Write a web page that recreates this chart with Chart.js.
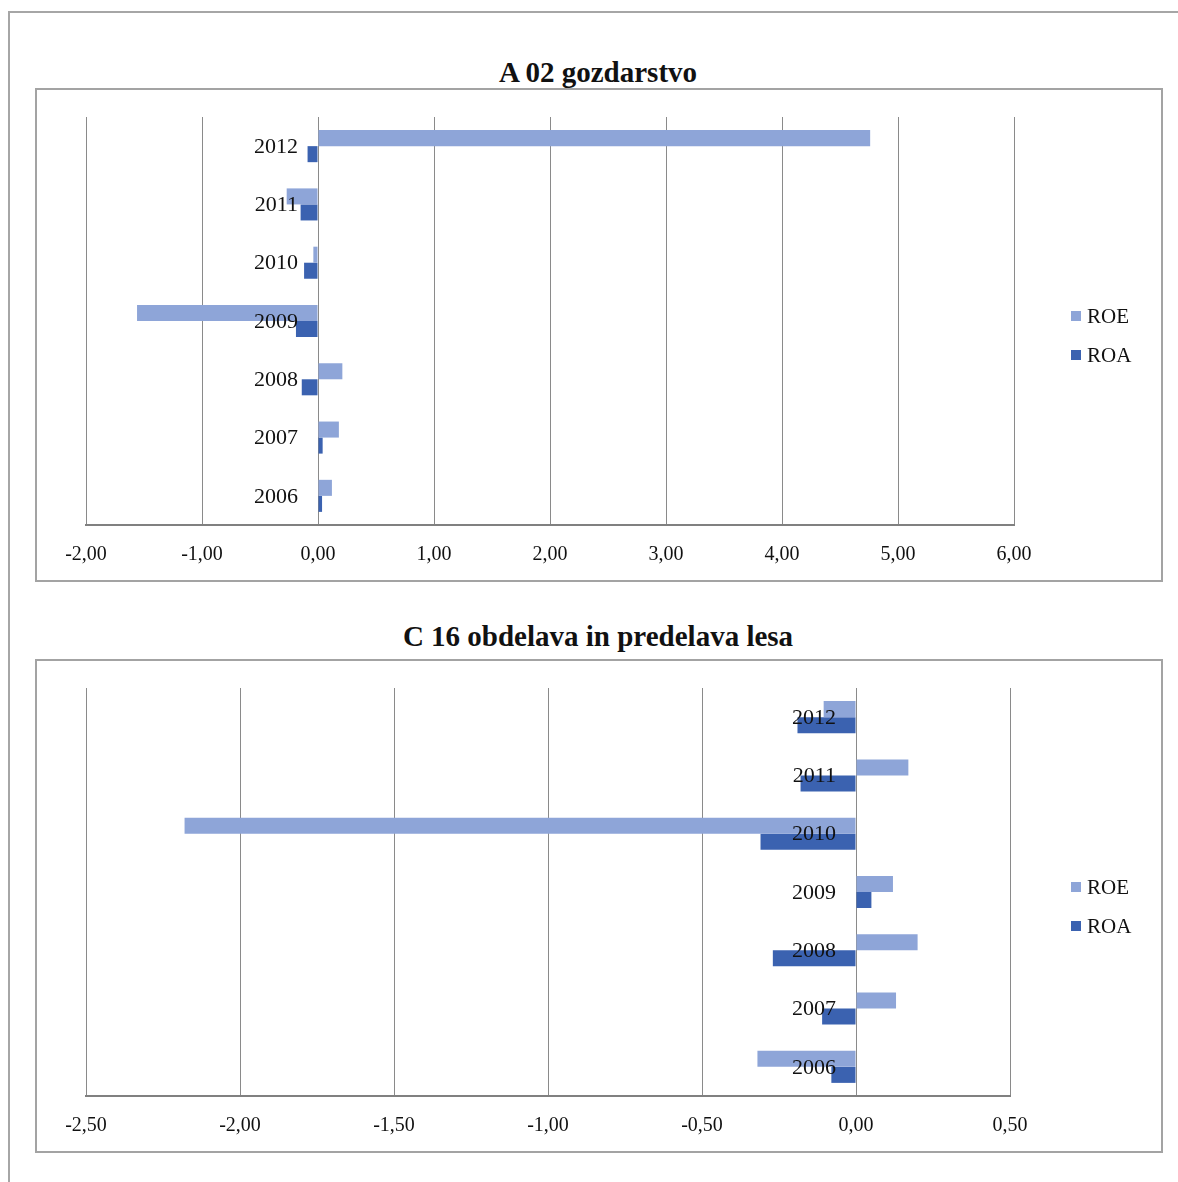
<!DOCTYPE html>
<html lang="sl">
<head>
    <meta charset="UTF-8">
    <title>ROE in ROA</title>
    <script src="https://cdn.jsdelivr.net/npm/chart.js"></script>
    <style>
        body { margin: 0; background: #fff; overflow: hidden; font-family: "Liberation Serif", "Times New Roman", serif; }
        .outer { position: absolute; left: 8px; top: 11px; width: 1220px; height: 1220px; border: 2px solid #a6a6a6; }
        .title { position: absolute; left: 36px; width: 1124px; text-align: center; font-weight: bold; font-size: 29px; line-height: 34px; color: #111; }
        .box { position: absolute; left: 35px; width: 1124px; height: 490px; border: 2px solid #a3a3a3; }
        .box canvas { position: absolute; left: 0; top: 0; }
        .legend { position: absolute; left: 1034px; font-size: 21px; color: #111; }
        .legend div { position: relative; height: 20px; line-height: 20px; padding-left: 16px; margin-bottom: 19px; }
        .legend span { position: absolute; left: 0; top: 5px; width: 10px; height: 10px; }
    </style>
</head>
<body>
<div class="outer"></div>

<div class="title" style="top: 55px;">A 02 gozdarstvo</div>
<div class="box" style="top: 88px;">
    <canvas id="chartA" width="1124" height="509"></canvas>
    <div class="legend" style="top: 216px;">
        <div><span style="background: rgb(142,165,216);"></span>ROE</div>
        <div><span style="background: rgb(59,98,176);"></span>ROA</div>
    </div>
</div>

<div class="title" style="top: 619px;">C 16 obdelava in predelava lesa</div>
<div class="box" style="top: 659px;">
    <canvas id="chartC" width="1124" height="509"></canvas>
    <div class="legend" style="top: 216px;">
        <div><span style="background: rgb(142,165,216);"></span>ROE</div>
        <div><span style="background: rgb(59,98,176);"></span>ROA</div>
    </div>
</div>

<script>
    const years = ['2006', '2007', '2008', '2009', '2010', '2011', '2012'];

    // A 02 gozdarstvo
    const roeA = [0.12, 0.18, 0.21, -1.56, -0.04, -0.27, 4.76];
    const roaA = [0.035, 0.04, -0.14, -0.19, -0.12, -0.15, -0.09];

    // C 16 obdelava in predelava lesa
    const roeC = [-0.32, 0.13, 0.20, 0.12, -2.18, 0.17, -0.105];
    const roaC = [-0.08, -0.11, -0.27, 0.05, -0.31, -0.18, -0.19];

    const roeColor = 'rgb(142, 165, 216)';
    const roaColor = 'rgb(59, 98, 176)';

    // leta so izpisana levo od ničle, tako kot v Excelu
    const yearLabels = {
        id: 'yearLabels',
        afterDatasetsDraw(chart) {
            const {ctx, scales: {x, y}} = chart;
            const x0 = x.getPixelForValue(0);
            ctx.save();
            ctx.font = '22px "Liberation Serif", serif';
            ctx.fillStyle = '#111';
            ctx.textAlign = 'right';
            ctx.textBaseline = 'middle';
            years.forEach((year, i) => {
                ctx.fillText(year, x0 - 20, y.getPixelForValue(i) + 1);
            });
            ctx.restore();
        }
    };

    function makeChart(id, roe, roa, min, max, step, padRight) {
        return new Chart(document.getElementById(id), {
            type: 'bar',
            data: {
                labels: years,
                datasets: [
                    { label: 'ROE', data: roe, backgroundColor: roeColor },
                    { label: 'ROA', data: roa, backgroundColor: roaColor }
                ]
            },
            options: {
                indexAxis: 'y',
                responsive: false,
                animation: false,
                devicePixelRatio: 1,
                barPercentage: 1,
                categoryPercentage: 0.55,
                layout: { padding: { left: 49, top: 27, right: padRight, bottom: 14 } },
                plugins: { legend: { display: false }, tooltip: { enabled: false } },
                scales: {
                    x: {
                        min: min,
                        max: max,
                        grid: { color: '#8a8a8a', drawTicks: false },
                        border: { color: '#808080', width: 2 },
                        ticks: {
                            stepSize: step,
                            padding: 18,
                            color: '#111',
                            font: { family: '"Liberation Serif", serif', size: 20 },
                            callback: v => v.toFixed(2).replace('.', ',')
                        }
                    },
                    y: {
                        reverse: true,
                        display: false
                    }
                }
            },
            plugins: [yearLabels]
        });
    }

    makeChart('chartA', roeA, roaA, -2, 6, 1, 147);
    makeChart('chartC', roeC, roaC, -2.5, 0.5, 0.5, 151);
</script>
</body>
</html>
